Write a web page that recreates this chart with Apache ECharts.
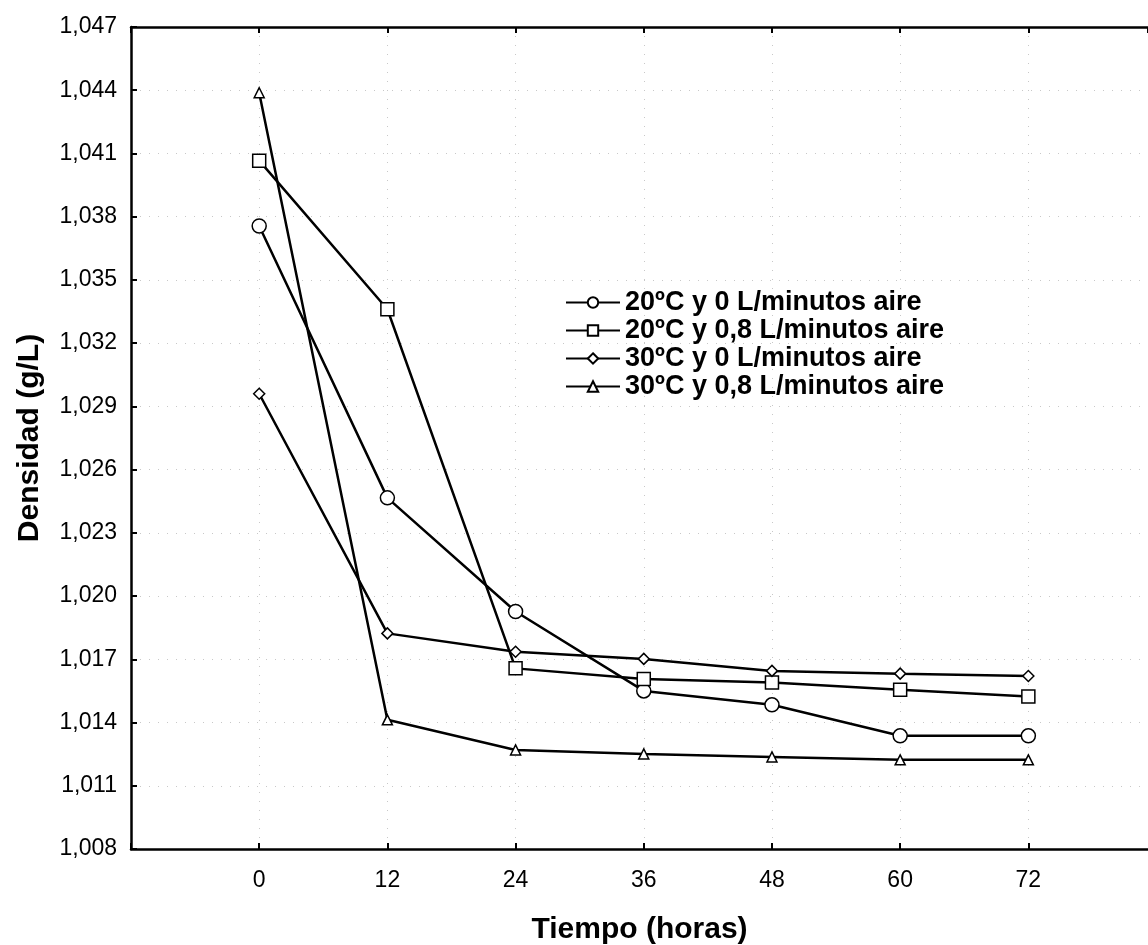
<!DOCTYPE html>
<html>
<head>
<meta charset="utf-8">
<script src="https://cdn.jsdelivr.net/npm/echarts@6/dist/echarts.min.js"></script>
<style>
    html, body { margin: 0; padding: 0; background: #fff; }
    #chart_densidad { width: 1148px; height: 945px; }
</style>
</head>
<body>
<div id="chart_densidad"></div>
<script>
// tiempo en horas
var horas = [0, 12, 24, 36, 48, 60, 72];

// densidad (g/L)
var d20_0 = [1.03756, 1.02466, 1.01927, 1.01550, 1.01484, 1.01337, 1.01337];
var d20_08 = [1.04066, 1.03361, 1.01657, 1.01607, 1.01590, 1.01555, 1.01523];
var d30_0 = [1.02960, 1.01823, 1.01736, 1.01702, 1.01645, 1.01632, 1.01621];
var d30_08 = [1.04388, 1.01413, 1.01270, 1.01251, 1.01237, 1.01223, 1.01223];

var nombres = [
    '20ºC y 0 L/minutos aire',
    '20ºC y 0,8 L/minutos aire',
    '30ºC y 0 L/minutos aire',
    '30ºC y 0,8 L/minutos aire'
];

var font = 'Liberation Sans, Arial, Helvetica, sans-serif';

function pares(ys) {
    return horas.map(function (h, i) { return [h, ys[i]]; });
}

function serie(nombre, ys, simbolo, size) {
    return {
        name: nombre,
        type: 'line',
        data: pares(ys),
        symbol: simbolo,
        symbolSize: size,
        color: '#000',
        lineStyle: { color: '#000', width: 2.5 },
        itemStyle: { color: '#fff', borderColor: '#000', borderWidth: 1.5 }
    };
}

var chart_densidad = {
    echarts: echarts.init(document.getElementById('chart_densidad')),
    drawEcharts: function () {
        let option = {
            animation: false,
            backgroundColor: '#fff',
            textStyle: { fontFamily: font, color: '#000' },
            grid: {
                left: 131,
                top: 27,
                right: 0,
                bottom: 96,
                outerBoundsMode: 'none'
            },
            legend: {
                orient: 'vertical',
                left: 560,
                top: 284,
                itemGap: 1,
                itemWidth: 54,
                itemHeight: 13,
                data: nombres,
                textStyle: {
                    fontFamily: font,
                    fontWeight: 'bold',
                    fontSize: 27,
                    color: '#000'
                }
            },
            xAxis: [
                {
                    type: 'value',
                    min: -12,
                    max: 83.2,
                    interval: 12,
                    name: 'Tiempo (horas)',
                    nameLocation: 'middle',
                    nameGap: 66,
                    nameTextStyle: { fontFamily: font, fontWeight: 'bold', fontSize: 30, color: '#000' },
                    axisLine: { onZero: false, lineStyle: { color: '#000', width: 2.5 } },
                    axisTick: { inside: true, length: 6, lineStyle: { color: '#000', width: 2 } },
                    axisLabel: {
                        fontSize: 23,
                        color: '#000',
                        margin: 20,
                        showMaxLabel: false,
                        formatter: function (v) {
                            return (v < 0 || v > 72) ? '' : String(v);
                        }
                    },
                    splitLine: { show: true, lineStyle: { color: '#c8c8c8', width: 1, type: [1, 8] } }
                },
                {
                    type: 'value',
                    position: 'top',
                    min: -12,
                    max: 83.2,
                    interval: 12,
                    axisLine: { onZero: false, lineStyle: { color: '#000', width: 2.5 } },
                    axisTick: { inside: true, length: 6, lineStyle: { color: '#000', width: 2 } },
                    axisLabel: { show: false },
                    splitLine: { show: false }
                }
            ],
            yAxis: {
                type: 'value',
                min: 1.008,
                max: 1.047,
                interval: 0.003,
                name: 'Densidad (g/L)',
                nameLocation: 'middle',
                nameGap: 86,
                nameTextStyle: { fontFamily: font, fontWeight: 'bold', fontSize: 30, color: '#000' },
                axisLine: { onZero: false, lineStyle: { color: '#000', width: 2.5 } },
                axisTick: { inside: true, length: 6, lineStyle: { color: '#000', width: 2 } },
                axisLabel: {
                    fontSize: 23,
                    color: '#000',
                    margin: 14,
                    formatter: function (v) {
                        return v.toFixed(3).replace('.', ',');
                    }
                },
                splitLine: { show: true, lineStyle: { color: '#c8c8c8', width: 1, type: [1, 8] } }
            },
            series: [
                serie(nombres[0], d20_0, 'circle', 14),
                serie(nombres[1], d20_08, 'rect', 13),
                serie(nombres[2], d30_0, 'diamond', 11),
                serie(nombres[3], d30_08, 'triangle', 10)
            ]
        };

        this.echarts.setOption(option);
    }
};

chart_densidad.drawEcharts();
</script>
</body>
</html>
